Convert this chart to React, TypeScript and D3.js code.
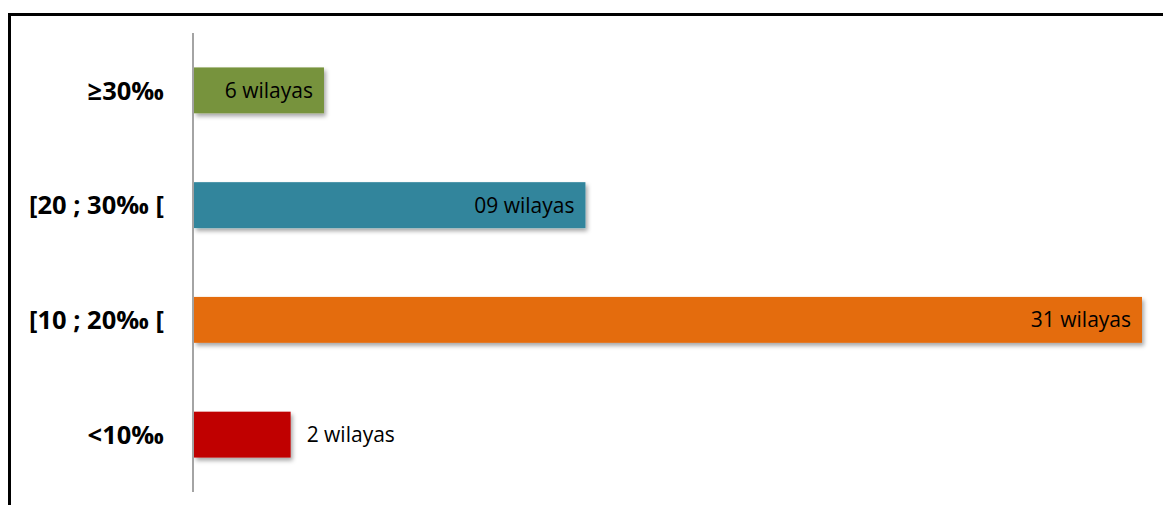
import React from "react";
import * as d3 from "d3";

const categories = ["≥30‰", "[20 ; 30‰ [", "[10 ; 20‰ [", "<10‰"];
const barValues = [4.25, 12.8, 31, 3.16];
const valueLabels = ["6 wilayas", "09 wilayas", "31 wilayas", "2 wilayas"];
const colors = ["#77933C", "#31859C", "#E46C0A", "#C00000"];

const W = 1163;
const H = 505;

export default function App() {
  const x = d3.scaleLinear().domain([0, 31]).range([194, 1142]);
  const y = d3.scaleBand<string>().domain(categories).range([33, 492]).paddingInner(0.6).paddingOuter(0.3);
  const bh = y.bandwidth();
  return (
    <svg width={W} height={H} style={{ position: "absolute", left: 0, top: 0, background: "#fff" }}>
      <defs>
        <filter id="sh" x="-5%" y="-30%" width="120%" height="180%">
          <feDropShadow dx="2" dy="3" stdDeviation="2" floodColor="#000" floodOpacity="0.35" />
        </filter>
      </defs>
      <rect x={0} y={0} width={W} height={H} fill="#fff" />
      <line x1={8} x2={W + 5} y1={14.5} y2={14.5} stroke="#000" strokeWidth={3} />
      <line x1={9.5} x2={9.5} y1={13} y2={H + 5} stroke="#000" strokeWidth={3} />
      {categories.map((c, i) => {
        const yc = (y(c) as number) + bh / 2;
        const x1 = x(barValues[i]);
        const inside = barValues[i] >= 4;
        return (
          <g key={c}>
            <rect x={x(0)} y={y(c)} width={x1 - x(0)} height={bh} fill={colors[i]} filter="url(#sh)" />
            <text
              x={inside ? x1 - 11 : x1 + 16}
              y={yc}
              dy="0.36em"
              textAnchor={inside ? "end" : "start"}
              fontFamily="'Open Sans', sans-serif"
              fontSize={21}
              fill="#000"
            >
              {valueLabels[i]}
            </text>
            <text
              x={164}
              y={yc}
              dy="0.36em"
              textAnchor="end"
              fontFamily="'Open Sans', sans-serif"
              fontWeight="bold"
              fontSize={25.5}
              fill="#000"
            >
              {c}
            </text>
          </g>
        );
      })}
      <line x1={193} x2={193} y1={33} y2={492} stroke="#868686" strokeWidth={1.5} />
    </svg>
  );
}
